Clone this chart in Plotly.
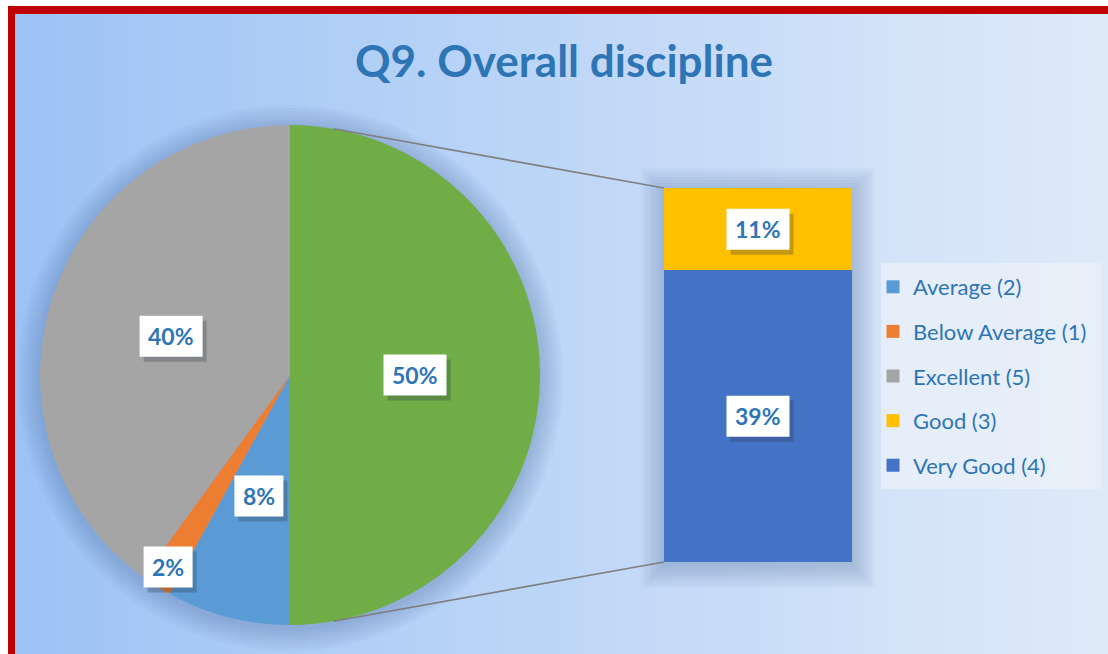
import math
import plotly.graph_objects as go

# ---------------- data ----------------
pie_labels = ["Average (2)", "Below Average (1)", "Excellent (5)"]
pie_values = [8, 2, 40]
bar_labels = ["Very Good (4)", "Good (3)"]
bar_values = [39, 11]
legend_order = ["Average (2)", "Below Average (1)", "Excellent (5)", "Good (3)", "Very Good (4)"]
title_text = "Q9. Overall discipline"

colors = {
    "Average (2)": "#5B9BD5",
    "Below Average (1)": "#ED7D31",
    "Excellent (5)": "#A5A5A5",
    "Good (3)": "#FFC000",
    "Very Good (4)": "#4472C4",
    "Other": "#70AD47",
}

W, H = 1108, 654
FONT = "Lato"
TXT = "#2E75B6"


def px(x):
    return x / W


def py(y):
    return 1 - y / H


other_value = sum(bar_values)
all_labels = ["Other"] + pie_labels
all_values = [other_value] + pie_values
total = sum(all_values)

# pie geometry (pixels)
cx, cy, R = 290, 375, 250
# bar geometry (pixels)
bx0, bx1, by0, by1 = 664, 852, 188, 562

shapes = []
# red frame
shapes.append(dict(type="rect", xref="paper", yref="paper", x0=px(8), x1=px(1130), y0=py(6), y1=py(700),
                   fillcolor="#C00000", line=dict(width=0), layer="below"))
# gradient background in stripes
left = (157, 195, 245)
right = (223, 234, 249)
N = 60
x_start, x_end = 15, 1108
for i in range(N):
    t = i / (N - 1)
    c = tuple(int(round(left[k] + (right[k] - left[k]) * t)) for k in range(3))
    xa = x_start + (x_end - x_start) * i / N
    xb = x_start + (x_end - x_start) * (i + 1) / N + 1
    shapes.append(dict(type="rect", xref="paper", yref="paper", x0=px(xa), x1=px(xb), y0=py(14), y1=py(700),
                       fillcolor="rgb(%d,%d,%d)" % c, line=dict(width=0), layer="below"))

# soft glow around pie and bar
for k in range(8):
    d = 2 + k * 3
    shapes.append(dict(type="circle", xref="paper", yref="paper",
                       x0=px(cx - R - d), x1=px(cx + R + d), y0=py(cy + R + d + 3), y1=py(cy - R - d + 3),
                       fillcolor="rgba(60,90,140,0.035)", line=dict(width=0), layer="below"))
    shapes.append(dict(type="rect", xref="paper", yref="paper",
                       x0=px(bx0 - d), x1=px(bx1 + d), y0=py(by1 + d + 3), y1=py(by0 - d + 3),
                       fillcolor="rgba(60,90,140,0.035)", line=dict(width=0), layer="below"))

# legend background
shapes.append(dict(type="rect", xref="paper", yref="paper", x0=px(881), x1=px(1101), y0=py(489), y1=py(263),
                   fillcolor="rgba(234,240,249,0.8)", line=dict(width=0), layer="below"))

# connector lines
for ang, yy in [(10, by0), (170, by1)]:
    a = math.radians(ang)
    sx = cx + R * math.sin(a)
    sy = cy - R * math.cos(a)
    shapes.append(dict(type="line", xref="paper", yref="paper", x0=px(sx), y0=py(sy), x1=px(bx0), y1=py(yy),
                       line=dict(color="#7F7F7F", width=1.6), layer="above"))

fig = go.Figure()

fig.add_trace(go.Pie(
    labels=all_labels, values=all_values, sort=False, direction="clockwise", rotation=0,
    marker=dict(colors=[colors[l] for l in all_labels], line=dict(width=0)),
    textinfo="none", hoverinfo="label+percent", showlegend=False,
    domain=dict(x=[px(cx - R), px(cx + R)], y=[py(cy + R), py(cy - R)]),
))

for lab, val in zip(bar_labels, bar_values):
    fig.add_trace(go.Bar(x=[0], y=[val], name=lab, marker=dict(color=colors[lab], line=dict(width=0)),
                         showlegend=False, width=1, hoverinfo="name+y"))

for lab in legend_order:
    fig.add_trace(go.Scatter(x=[None], y=[None], mode="markers", name=lab, legendgroup=lab,
                             marker=dict(symbol="square", size=13, color=colors[lab])))

annotations = []


def label_box(x, y, text, xref="paper", yref="paper"):
    w = 21 + 14 * len(text)
    h = 41
    common = dict(type="rect", xref=xref, yref=yref, xsizemode="pixel", ysizemode="pixel",
                  xanchor=x, yanchor=y, line=dict(width=0), layer="above")
    sh = dict(common)
    sh.update(x0=-w / 2 + 4, x1=w / 2 + 4, y0=-h / 2 - 5, y1=h / 2 - 5, fillcolor="rgba(40,50,70,0.28)")
    shapes.append(sh)
    fg = dict(common)
    fg.update(x0=-w / 2, x1=w / 2, y0=-h / 2, y1=h / 2, fillcolor="white")
    shapes.append(fg)
    annotations.append(dict(x=x, y=y, xref=xref, yref=yref, showarrow=False, xanchor="center",
                            yanchor="middle", text="<b>%s</b>" % text,
                            font=dict(family=FONT, size=23, color=TXT)))


# pie labels from cumulative angles
cum = 0
for lab, val in zip(all_labels, all_values):
    mid = (cum + val / 2) / total * 360
    cum += val
    frac = val / total
    d = 0.5 * R if frac >= 0.05 else 0.91 * R
    a = math.radians(mid)
    lx = cx + d * math.sin(a)
    ly = cy - d * math.cos(a)
    label_box(px(lx), py(ly), "%d%%" % round(100 * val / total))

# bar labels
cum = 0
for lab, val in zip(bar_labels, bar_values):
    label_box(0, cum + val / 2, "%d%%" % round(100 * val / total), xref="x", yref="y")
    cum += val

fig.update_layout(
    width=W, height=H, margin=dict(l=0, r=0, t=0, b=0),
    paper_bgcolor="white", plot_bgcolor="rgba(0,0,0,0)",
    barmode="stack", bargap=0,
    xaxis=dict(domain=[px(bx0), px(bx1)], range=[-0.5, 0.5], visible=False, fixedrange=True),
    yaxis=dict(domain=[py(by1), py(by0)], range=[0, other_value], visible=False, fixedrange=True),
    title=dict(text="<b>%s</b>" % title_text, x=px(564), y=py(62), xanchor="center", yanchor="middle",
               xref="paper", yref="paper", font=dict(family=FONT, size=44, color=TXT)),
    legend=dict(x=px(873), y=py(266), xanchor="left", yanchor="top", bgcolor="rgba(0,0,0,0)",
                font=dict(family=FONT, size=22, color=TXT), tracegroupgap=13, itemwidth=30,
                borderwidth=0),
    shapes=shapes, annotations=annotations,
    font=dict(family=FONT),
)

fig.write_html("out.html", config={"displayModeBar": False},
               post_script="document.body.style.margin='0';document.body.style.overflow='hidden';")
